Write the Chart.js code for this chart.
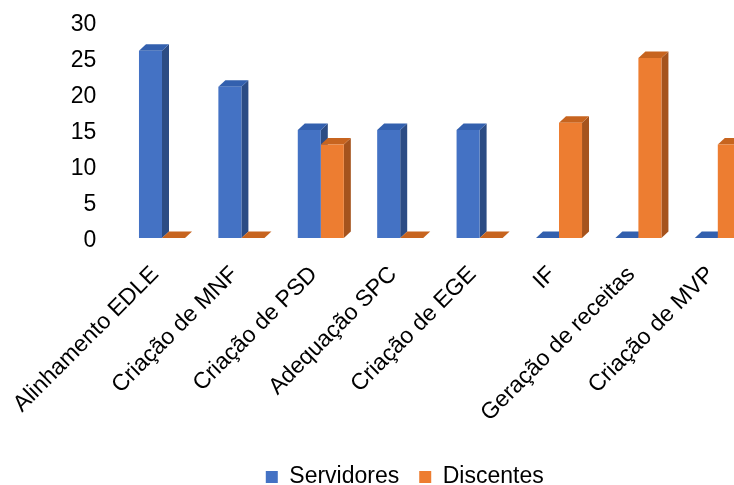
<!DOCTYPE html>
<html><head><meta charset="utf-8">
<script src="https://cdn.jsdelivr.net/npm/chart.js@4"></script>
<style>
html,body{margin:0;padding:0;background:#fff;overflow:hidden;width:734px;height:485px}
#wrap{width:809px;height:485px}
</style></head>
<body><div id="wrap"><canvas id="c" width="809" height="485"></canvas></div>
<script>
const categories = ["Alinhamento EDLE","Criação de MNF","Criação de PSD","Adequação SPC","Criação de EGE","IF","Geração de receitas","Criação de MVP"];
const servidores = [26,21,15,15,15,0,0,0];
const discentes  = [0,0,13,0,0,16,25,13];
const seriesNames = ["Servidores","Discentes"];
const yMin = 0, yMax = 30, yStep = 5;

const FONT = "'Liberation Sans', Arial, sans-serif";
const BLUE = {front:'#4472C4', top:'#3360AE', side:'#2C4C84'};
const ORANGE = {front:'#ED7D31', top:'#C7641F', side:'#A5531D'};
const DX = 7, DY = 6.5;

const depth3d = {
  id:'depth3d',
  afterLayout(chart){
    chart.legend.left += 26; chart.legend.right += 26;
  },
  beforeDatasetsDraw(chart){
    const ctx = chart.ctx;
    ctx.save();
    chart.data.datasets.forEach((ds, di) => {
      const meta = chart.getDatasetMeta(di);
      const pal = di === 0 ? BLUE : ORANGE;
      meta.data.forEach(bar => {
        const p = bar.getProps(['x','y','base','width'], true);
        const l = p.x - p.width/2, r = p.x + p.width/2, t = p.y, b = p.base;
        ctx.fillStyle = pal.side;
        ctx.beginPath();
        ctx.moveTo(r, t); ctx.lineTo(r+DX, t-DY); ctx.lineTo(r+DX, b-DY); ctx.lineTo(r, b); ctx.closePath(); ctx.fill();
        ctx.fillStyle = pal.top;
        ctx.beginPath();
        ctx.moveTo(l, t); ctx.lineTo(l+DX, t-DY); ctx.lineTo(r+DX, t-DY); ctx.lineTo(r, t); ctx.closePath(); ctx.fill();
      });
    });
    ctx.restore();
  }
};

new Chart(document.getElementById('c'), {
  type:'bar',
  data:{
    labels: categories,
    datasets:[
      {label: seriesNames[0], data: servidores, backgroundColor: BLUE.front, borderWidth:0, barPercentage:1, categoryPercentage:0.58},
      {label: seriesNames[1], data: discentes, backgroundColor: ORANGE.front, borderWidth:0, barPercentage:1, categoryPercentage:0.58}
    ]
  },
  options:{
    responsive:false,
    devicePixelRatio:1,
    animation:false,
    layout:{padding:{top:22, right:51.5, left:0, bottom:-13.5}},
    plugins:{
      tooltip:{enabled:false},
      legend:{
        position:'bottom',
        labels:{boxWidth:12, boxHeight:12, padding:20, color:'#000', font:{family:FONT, size:23}}
      }
    },
    scales:{
      y:{
        min:yMin, max:yMax,
        grid:{display:false, drawTicks:true, tickLength:24},
        border:{display:false},
        ticks:{stepSize:yStep, padding:2, labelOffset:3, color:'#000', font:{family:FONT, size:23}},
        afterFit(s){ s.width = 122.3; }
      },
      x:{
        grid:{display:false, drawTicks:true, tickLength:21},
        border:{display:false},
        ticks:{minRotation:45, maxRotation:45, autoSkip:false, padding:2, labelOffset:-7, color:'#000', font:{family:FONT, size:23}},
        afterFit(s){ s.height = 207.5; }
      }
    }
  },
  plugins:[depth3d]
});
</script>
</body></html>
